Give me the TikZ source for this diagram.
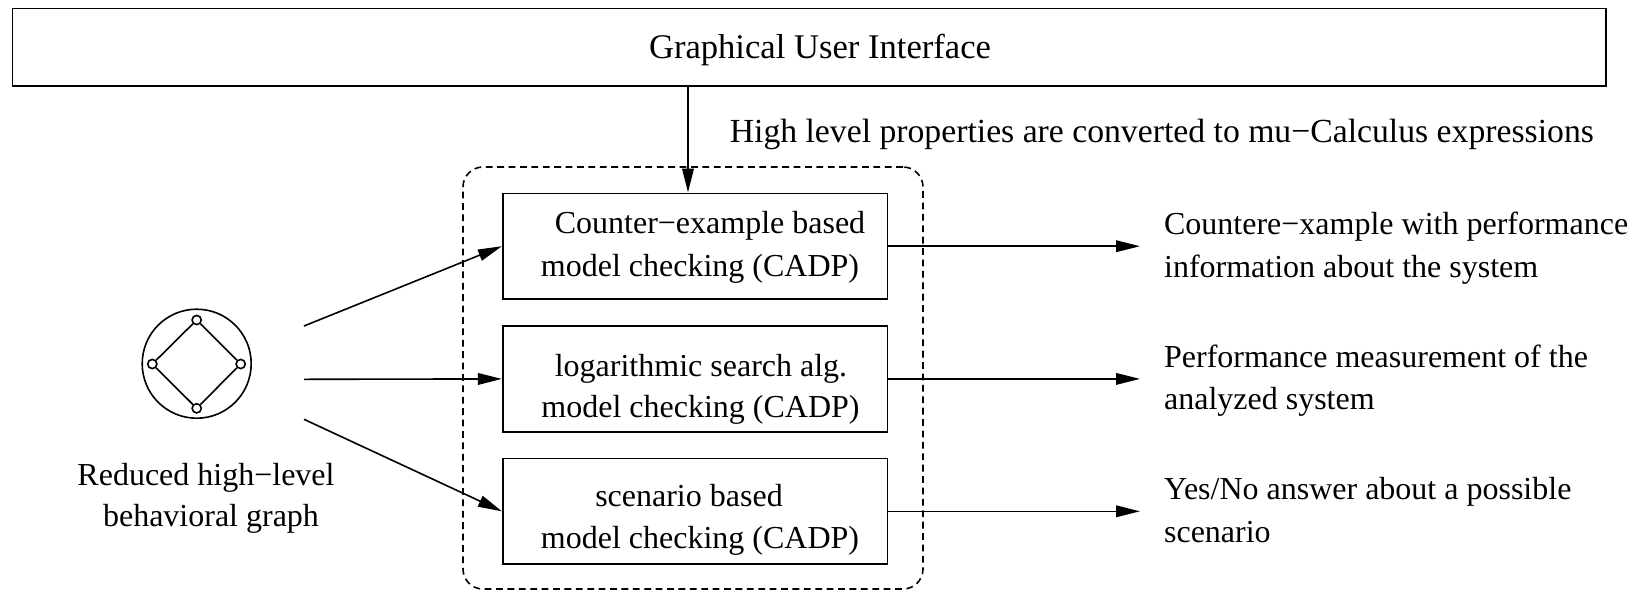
\documentclass[tikz,border=0pt]{standalone}
\usepackage{fontspec}
\setmainfont{Liberation Serif}
\usetikzlibrary{arrows.meta}
\begin{document}
\begin{tikzpicture}[x=0.5pt,y=-0.5pt,
  line width=0.8pt,
  lbl/.style={font=\fontsize{16}{20}\selectfont, inner sep=0pt, anchor=base},
  lblL/.style={lbl, anchor=base west},
  procbox/.style={draw, inner sep=0pt, minimum width=192.3pt, minimum height=52.9pt},
  groupframe/.style={draw, inner sep=0pt, rounded corners=10pt,
    dash pattern=on 3.4pt off 2.3pt, minimum width=230pt, minimum height=211pt},
  arr/.style={-{Triangle[length=12pt,width=5.8pt]}},
  vertex/.style={draw, circle, inner sep=0pt, minimum size=4.6pt},
]
\useasboundingbox (0,0) rectangle (1635,591);

% top bar
\node[draw, inner sep=0pt, minimum width=796.75pt, minimum height=38.85pt] (gui) at (809.25,47.15) {};
\node[lbl, font=\fontsize{17.3}{20}\selectfont] (guitext) at (820,58) {Graphical User Interface};

% model checking group
\node[groupframe] (group) at (693,378) {};
\node[procbox] (procA) at (695,246.2) {};
\node[procbox] (procB) at (695,378.9) {};
\node[procbox] (procC) at (695,511.3) {};

\node[lbl] (procA1) at (710,233) {Counter−example based};
\node[lbl] (procA2) at (700,276.3) {model checking (CADP)};
\node[lbl] (procB1) at (701,376) {logarithmic search alg.};
\node[lbl] (procB2) at (700.5,417) {model checking (CADP)};
\node[lbl] (procC1) at (689,506.5) {scenario based};
\node[lbl] (procC2) at (700,548) {model checking (CADP)};

% conversion from the interface
\draw[arr] ([xshift=-3.5pt]procA.north |- gui.south) -- ([xshift=-3.5pt]procA.north);
\node[lblL, font=\fontsize{16.85}{20}\selectfont] (convtext) at (729,142.5) {High level properties are converted to mu−Calculus expressions};

% behavioural graph icon
\node[draw, circle, inner sep=0pt, minimum size=54.5pt] (icon) at (196.7,363.7) {};
\node[vertex] (vN) at (196.7,320) {};
\node[vertex] (vW) at (152.3,364) {};
\node[vertex] (vE) at (240.7,364) {};
\node[vertex] (vS) at (196.7,408.3) {};
\draw (vN) -- (vE) -- (vS) -- (vW) -- (vN);
\node[lbl] (icon1) at (206,485) {Reduced high−level};
\node[lbl] (icon2) at (211,526) {behavioral graph};

% inputs to the checkers
\coordinate (srcA) at (304,326);
\coordinate (srcB) at (304,379.3);
\coordinate (srcC) at (304,419.3);
\draw[arr] (srcA) -- (procA.west);
\draw[arr] (srcB) -- (procB.west);
\draw[arr] (srcC) -- (procC.west);

% results
\coordinate (outA) at (1140,246.2);
\coordinate (outB) at (1140,378.9);
\coordinate (outC) at (1140,511.3);
\draw[arr] (procA.east) -- (outA);
\draw[arr] (procB.east) -- (outB);
\draw[arr] (procC.east) -- (outC);

\node[lblL] (resA1) at (1163.3,234.5) {Countere−xample with performance};
\node[lblL] (resA2) at (1163.3,277) {information about the system};
\node[lblL] (resB1) at (1163.3,367.4) {Performance measurement of the};
\node[lblL] (resB2) at (1163.3,409) {analyzed system};
\node[lblL] (resC1) at (1163.3,499.5) {Yes/No answer about a possible};
\node[lblL] (resC2) at (1163.3,542.5) {scenario};
\end{tikzpicture}
\end{document}
